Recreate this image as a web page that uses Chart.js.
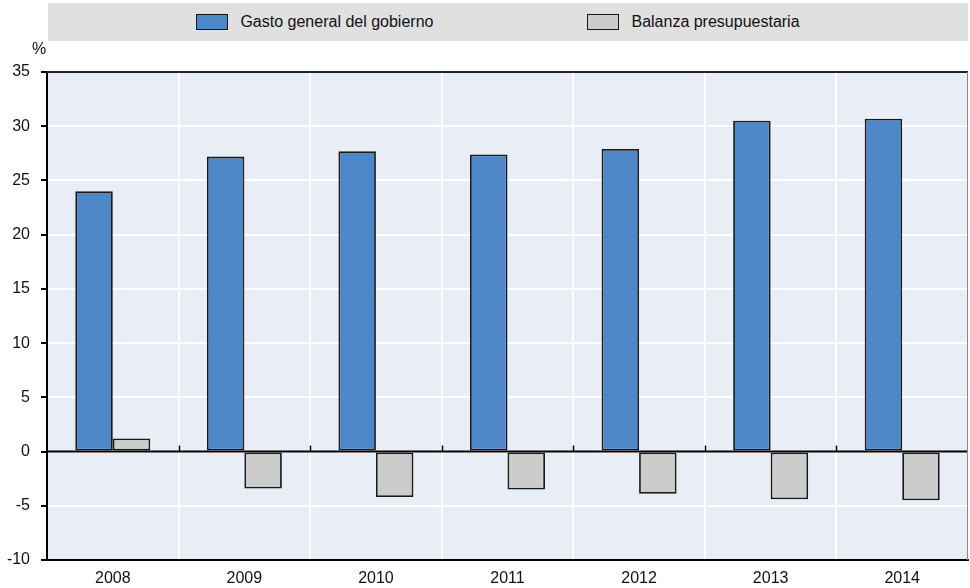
<!DOCTYPE html>
<html>
<head>
<meta charset="utf-8">
<script src="https://cdn.jsdelivr.net/npm/chart.js@4.4.1/dist/chart.umd.min.js"></script>
<style>
  body { margin: 0; background: #fff; }
  #wrap { position: relative; width: 970px; height: 588px; }
  #legend {
    position: absolute; left: 48px; top: 3px; width: 900px; height: 38px; padding-right: 20px;
    background: #e0e0e0; display: flex; align-items: center; justify-content: center;
    gap: 154px; font-family: "Liberation Sans Narrow", "Arial Narrow", "Liberation Sans", sans-serif;
    font-size: 16px; color: #111;
  }
  .item { display: flex; align-items: center; }
  .swatch { width: 30px; height: 14px; border: 1.5px solid #1a1a1a; margin-right: 12px; }
</style>
</head>
<body>
<div id="wrap">
  <div id="legend"></div>
  <canvas id="chart" width="970" height="588"></canvas>
</div>
<script>
const years = ['2008', '2009', '2010', '2011', '2012', '2013', '2014'];
const gasto = [24.0, 27.2, 27.7, 27.4, 27.9, 30.5, 30.7];
const balanza = [1.2, -3.4, -4.2, -3.5, -3.9, -4.4, -4.5];
const seriesNames = ['Gasto general del gobierno', 'Balanza presupuestaria'];
const seriesColors = ['#4e87c7', '#cccccc'];

const fontFamily = '"Liberation Sans Narrow", "Arial Narrow", "Liberation Sans", sans-serif';

// plot background, frame, zero-line ticks and unit label
const decorations = {
    id: 'decorations',
    beforeDraw(chart) {
        const { ctx, chartArea: a } = chart;
        ctx.save();
        ctx.fillStyle = '#e9edf6';
        ctx.fillRect(a.left, a.top, a.right - a.left, a.bottom - a.top);
        ctx.restore();
    },
    afterDatasetsDraw(chart) {
        const { ctx, chartArea: a, scales } = chart;
        const y0 = scales.y.getPixelForValue(0);
        ctx.save();
        ctx.strokeStyle = '#000';
        ctx.lineWidth = 2;
        ctx.beginPath();
        ctx.moveTo(a.left, y0);
        ctx.lineTo(a.right, y0);
        ctx.stroke();
        // small marks between categories on the zero line
        ctx.lineWidth = 1.5;
        const step = (a.right - a.left) / years.length;
        for (let i = 1; i < years.length; i++) {
            const x = Math.round(a.left + step * i) + 0.5;
            ctx.beginPath();
            ctx.moveTo(x, y0);
            ctx.lineTo(x, y0 - 6);
            ctx.stroke();
        }
        ctx.strokeStyle = '#222';
        ctx.lineWidth = 2;
        ctx.beginPath();
        ctx.moveTo(a.left, a.top);
        ctx.lineTo(a.right, a.top);
        ctx.stroke();
        ctx.strokeStyle = '#888';
        ctx.lineWidth = 1;
        ctx.beginPath();
        ctx.moveTo(a.right - 0.5, a.top);
        ctx.lineTo(a.right - 0.5, a.bottom);
        ctx.stroke();
        ctx.fillStyle = '#111';
        ctx.font = '16px ' + fontFamily;
        ctx.textAlign = 'center';
        ctx.textBaseline = 'bottom';
        ctx.fillText('%', 39, a.top - 14);
        ctx.restore();
    }
};

// legend built from the dataset names
const legend = document.getElementById('legend');
seriesNames.forEach((name, i) => {
    const item = document.createElement('div');
    item.className = 'item';
    item.innerHTML = '<span class="swatch" style="background:' + seriesColors[i] + '"></span>' + name;
    legend.appendChild(item);
});

new Chart(document.getElementById('chart'), {
    type: 'bar',
    data: {
        labels: years,
        datasets: [{
            label: seriesNames[0],
            data: gasto,
            backgroundColor: seriesColors[0],
            borderColor: '#1a1a1a',
            borderWidth: 1.8,
            borderSkipped: false
        }, {
            label: seriesNames[1],
            data: balanza,
            backgroundColor: seriesColors[1],
            borderColor: '#1a1a1a',
            borderWidth: 1.8,
            borderSkipped: false
        }]
    },
    options: {
        responsive: false,
        animation: false,
        events: [],
        layout: { padding: { top: 72, right: 2, left: 0, bottom: 0 } },
        datasets: { bar: { categoryPercentage: 0.57, barPercentage: 1.0 } },
        plugins: { legend: { display: false }, tooltip: { enabled: false } },
        scales: {
            x: {
                grid: { color: '#ffffff', lineWidth: 2, drawTicks: false, offset: true },
                border: { color: '#000', width: 2 },
                ticks: { color: '#111', font: { family: fontFamily, size: 16 }, padding: 9 },
                afterFit(scale) { scale.height = 28; }
            },
            y: {
                min: -10,
                max: 35,
                ticks: { stepSize: 5, color: '#111', font: { family: fontFamily, size: 16 }, padding: 11 },
                grid: { color: '#ffffff', lineWidth: 2, tickColor: '#000', tickLength: 6 },
                border: { color: '#000', width: 2 },
                afterFit(scale) { scale.width = 47; }
            }
        }
    },
    plugins: [decorations]
});
</script>
</body>
</html>
